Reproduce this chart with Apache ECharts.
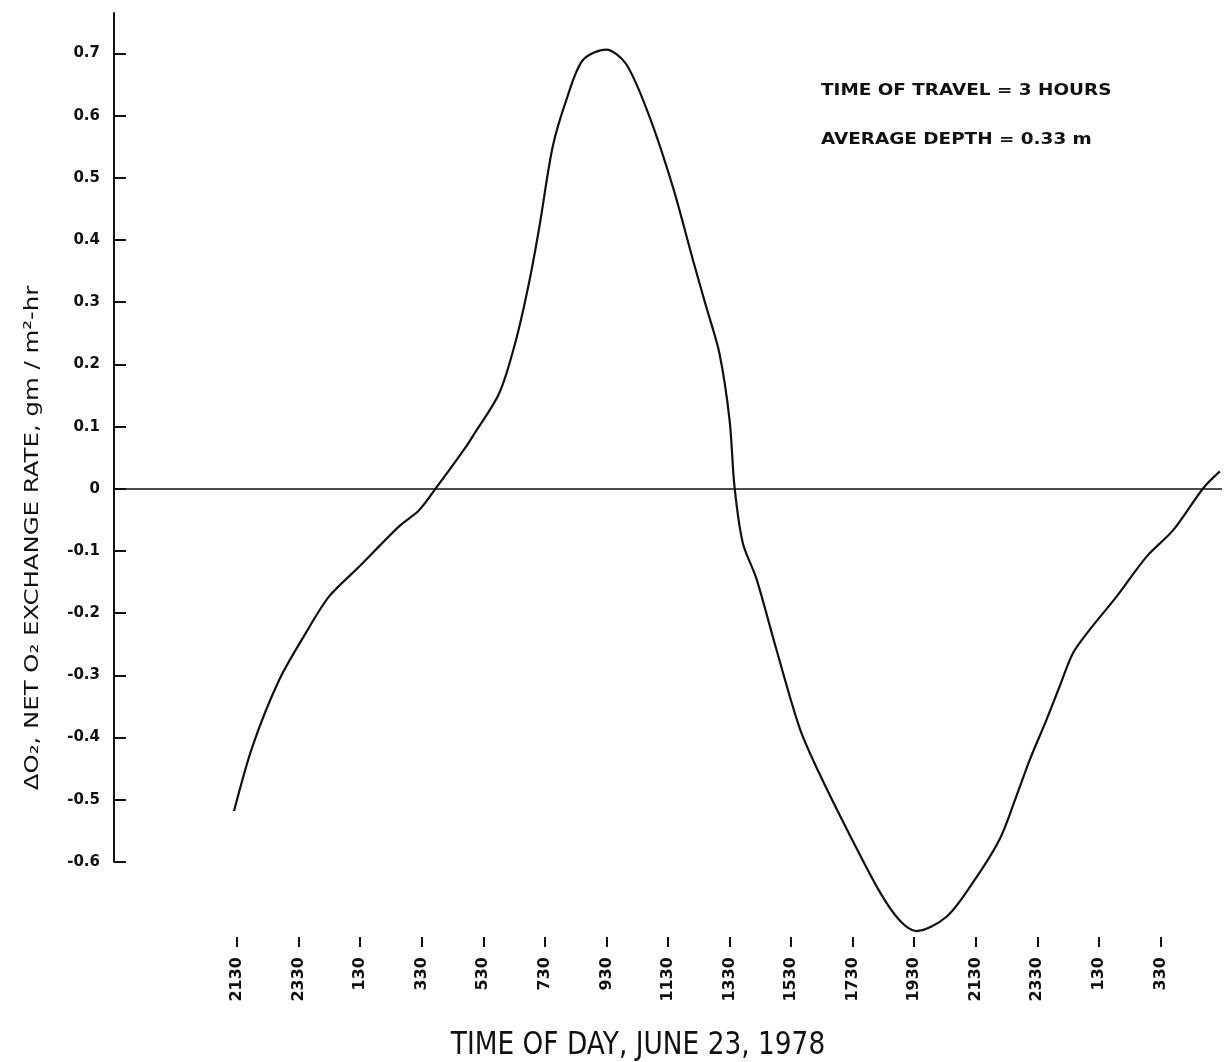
<!DOCTYPE html>
<html><head><meta charset="utf-8">
<script src="https://cdn.jsdelivr.net/npm/echarts@6/dist/echarts.min.js"></script>
<style>html,body{margin:0;padding:0;background:#fff}#c{width:1230px;height:1062px}</style>
</head><body><div id="c"></div>
<script>
// hours after 21:30 on the first evening
const hours = [-0.10, 0.50, 1.37, 2.23, 2.99, 3.97, 5.27, 5.92, 6.46, 7.44, 7.65, 8.52, 9.06, 9.50, 9.82,
  10.25, 10.69, 11.23, 11.99, 12.64, 13.40, 14.16, 14.81, 15.24, 15.67, 16.00, 16.16, 16.43, 16.87,
  17.52, 18.28, 18.93, 19.90, 20.88, 21.53, 22.07, 23.05, 23.92, 24.78, 25.32, 25.76, 26.30, 26.73,
  27.16, 27.71, 28.58, 29.55, 30.42, 31.39, 31.93];
const rates = [-0.518, -0.414, -0.307, -0.232, -0.173, -0.125, -0.060, -0.034, 0.001, 0.068, 0.084, 0.154, 0.239, 0.335, 0.421,
  0.549, 0.624, 0.689, 0.706, 0.683, 0.598, 0.485, 0.368, 0.293, 0.218, 0.111, 0.004, -0.087, -0.144,
  -0.258, -0.385, -0.459, -0.556, -0.648, -0.694, -0.711, -0.688, -0.632, -0.563, -0.494, -0.435, -0.371, -0.317,
  -0.264, -0.226, -0.173, -0.109, -0.066, 0.001, 0.028];
const xTickHours = [0, 2, 4, 6, 8, 10, 12, 14, 16, 18, 20, 22, 24, 26, 28, 30];
const xTickLabels = ['2130', '2330', '130', '330', '530', '730', '930', '1130', '1330', '1530', '1730', '1930', '2130', '2330', '130', '330'];
const yTickValues = [-0.6, -0.5, -0.4, -0.3, -0.2, -0.1, 0, 0.1, 0.2, 0.3, 0.4, 0.5, 0.6, 0.7];
const yAxisTitle = 'ΔO₂, NET O₂ EXCHANGE RATE, gm / m²-hr';
const xAxisTitle = 'TIME OF DAY, JUNE 23, 1978';
const notes = ['TIME OF TRAVEL = 3 HOURS', 'AVERAGE DEPTH = 0.33 m'];

const ink = '#111';
const chart = echarts.init(document.getElementById('c'), null, {renderer: 'canvas'});
chart.setOption({
  animation: false,
  backgroundColor: '#fff',
  grid: {left: 114, right: 8, top: 13, bottom: 200, containLabel: false},
  xAxis: {
    type: 'value', min: -4, max: 32, position: 'bottom', offset: 75,
    axisLine: {show: false, onZero: false},
    splitLine: {show: false},
    axisTick: {show: true, length: 10, inside: false, customValues: xTickHours, lineStyle: {color: ink, width: 2}},
    axisLabel: {
      show: true, rotate: 90, margin: 20, customValues: xTickHours,
      color: ink, fontFamily: 'DejaVu Sans', fontWeight: 'bold', fontSize: 16,
      formatter: v => { const i = xTickHours.indexOf(Math.round(v)); return i >= 0 ? xTickLabels[i] : ''; }
    }
  },
  yAxis: {
    type: 'value', min: -0.6, max: 0.765, position: 'left',
    axisLine: {show: true, onZero: false, lineStyle: {color: ink, width: 2}},
    splitLine: {show: false},
    axisTick: {show: true, inside: true, length: 12, customValues: yTickValues, lineStyle: {color: ink, width: 2}},
    axisLabel: {
      show: true, margin: 14, customValues: yTickValues,
      color: ink, fontFamily: 'DejaVu Sans', fontWeight: 'bold', fontSize: 15,
      formatter: v => { const r = Math.round(v * 10) / 10; return r === 0 ? '0' : (r < 0 ? '-' + Math.abs(r).toFixed(1) : r.toFixed(1)); }
    }
  },
  series: [{
    type: 'line',
    data: hours.map((h, i) => [h, rates[i]]),
    clip: false,
    showSymbol: false,
    smooth: 0.3,
    lineStyle: {color: ink, width: 2.2},
    markLine: {
      silent: true, symbol: 'none', label: {show: false},
      lineStyle: {color: ink, type: 'solid', width: 1.6},
      data: [{yAxis: 0}]
    }
  }],
  graphic: [
    {type: 'text', x: 33, y: 538, rotation: Math.PI / 2, scaleX: 1.22,
      style: {text: yAxisTitle, fill: ink, font: '20px "DejaVu Sans"', align: 'center', verticalAlign: 'middle'}},
    {type: 'text', x: 638, y: 1046, scaleX: 1.2, scaleY: 1.45,
      style: {text: xAxisTitle, fill: ink, font: '22px "DejaVu Sans"', align: 'center', verticalAlign: 'middle'}},
    {type: 'text', x: 821, y: 91, scaleX: 1.15,
      style: {text: notes[0], fill: ink, font: 'bold 16px "DejaVu Sans"', align: 'left', verticalAlign: 'middle'}},
    {type: 'text', x: 821, y: 140, scaleX: 1.15,
      style: {text: notes[1], fill: ink, font: 'bold 16px "DejaVu Sans"', align: 'left', verticalAlign: 'middle'}}
  ]
});
</script></body></html>
